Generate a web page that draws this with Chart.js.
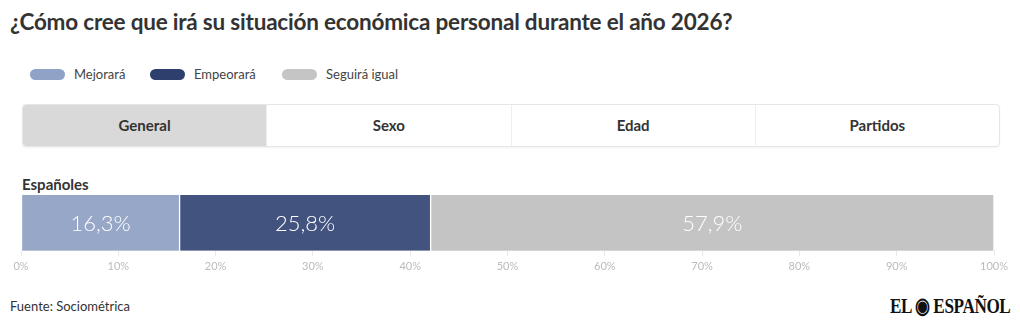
<!DOCTYPE html>
<html>
<head>
<meta charset="utf-8">
<script src="https://cdn.jsdelivr.net/npm/chart.js@4"></script>
<style>
  body { margin: 0; width: 1020px; height: 330px; background: #fff; font-family: "Lato", "Noto Sans", sans-serif; color: #333; position: relative; overflow: hidden; }
  h1 { position: absolute; left: 10px; top: 8px; margin: 0; font-size: 22.5px; font-weight: bold; color: #333; letter-spacing: -0.2px; }
  .legend { position: absolute; left: 30px; top: 66px; font-size: 13px; color: #444; }
  .legend span.item { position: absolute; white-space: nowrap; }
  .legend i { display: inline-block; width: 35px; height: 11px; border-radius: 6px; vertical-align: middle; margin-right: 9px; margin-top: -2px; }
  .tabs { position: absolute; left: 22px; top: 104px; width: 976px; height: 41px; border: 1px solid #e6e6e6; border-radius: 4px; display: flex; overflow: hidden; box-shadow: 0 1px 2px rgba(0,0,0,0.05); }
  .tabs div { flex: 1; text-align: center; line-height: 41px; font-weight: bold; font-size: 15px; color: #333; border-left: 1px solid #eee; }
  .tabs div:first-child { background: #d9d9d9; border-left: none; }
  .group { position: absolute; left: 22px; top: 175px; font-weight: bold; font-size: 15px; color: #333; }
  .chart { position: absolute; left: 0; top: 193px; width: 1020px; height: 84px; }
  .source { position: absolute; left: 10px; top: 298px; font-size: 13px; color: #333; }
  .logo { position: absolute; right: 10px; top: 293px; font-family: "Liberation Serif", serif; font-weight: bold; font-size: 22px; color: #111; transform: scaleX(0.78); transform-origin: right; letter-spacing: -0.5px; }
</style>
</head>
<body>
<h1>¿Cómo cree que irá su situación económica personal durante el año 2026?</h1>
<div class="legend" id="legend"></div>
<div class="tabs"><div>General</div><div>Sexo</div><div>Edad</div><div>Partidos</div></div>
<div class="group">Españoles</div>
<div class="chart"><canvas id="bar"></canvas></div>
<div class="source">Fuente: Sociométrica</div>
<div class="logo">EL ◉ ESPAÑOL</div>
<script>
const categories = ['Españoles'];
const seriesNames = ['Mejorará', 'Empeorará', 'Seguirá igual'];
const mejorara = [16.3];
const empeorara = [25.8];
const seguiraIgual = [57.9];
const barColors = ['#97a7c8', '#42537f', '#c4c4c4'];
const legendColors = ['#8fa3c8', '#2e3f6e', '#c5c5c5'];
const legendX = [0, 120, 252];

// html legend
const legend = document.getElementById('legend');
seriesNames.forEach((name, i) => {
    const s = document.createElement('span');
    s.className = 'item';
    s.style.left = legendX[i] + 'px';
    s.innerHTML = '<i style="background:' + legendColors[i] + '"></i>' + name;
    legend.appendChild(s);
});

// values written inside each bar segment
const barLabels = {
    id: 'barLabels',
    afterDatasetsDraw(chart) {
        const ctx = chart.ctx;
        ctx.save();
        ctx.font = '300 22px "Lato", "Noto Sans", sans-serif';
        ctx.fillStyle = '#ffffff';
        ctx.textAlign = 'center';
        ctx.textBaseline = 'middle';
        chart.data.datasets.forEach((ds, i) => {
            chart.getDatasetMeta(i).data.forEach((el, j) => {
                const p = el.getProps(['x', 'base', 'y']);
                const txt = ds.data[j].toFixed(1).replace('.', ',') + '%';
                ctx.fillText(txt, (p.x + p.base) / 2, p.y + 1);
            });
        });
        ctx.restore();
    }
};

const bar = document.getElementById('bar').getContext('2d');
const myChart = new Chart(bar, {
    type: 'bar',
    data: {
        labels: categories,
        datasets: [
            { label: seriesNames[0], data: mejorara, backgroundColor: barColors[0] },
            { label: seriesNames[1], data: empeorara, backgroundColor: barColors[1] },
            { label: seriesNames[2], data: seguiraIgual, backgroundColor: barColors[2] },
        ].map(d => Object.assign(d, { borderColor: '#ffffff', borderWidth: { left: 1, right: 1, top: 0, bottom: 0 }, borderSkipped: false, barPercentage: 1, categoryPercentage: 1 })),
    },
    options: {
        indexAxis: 'y',
        responsive: true,
        maintainAspectRatio: false,
        animation: false,
        layout: { padding: { left: 21, right: 26, top: 2, bottom: 0 } },
        plugins: {
            legend: { display: false },
            tooltip: { enabled: false },
        },
        scales: {
            x: {
                stacked: true,
                min: 0,
                max: 100,
                border: { display: true, color: '#ececec' },
                grid: { drawOnChartArea: false, color: '#e8e8e8', tickLength: 5 },
                ticks: { stepSize: 10, color: '#bbbbbb', font: { size: 11, family: 'Lato' }, padding: 4, callback: v => v + '%' },
            },
            y: {
                stacked: true,
                display: false,
            },
        },
    },
    plugins: [barLabels],
});
</script>
</body>
</html>
